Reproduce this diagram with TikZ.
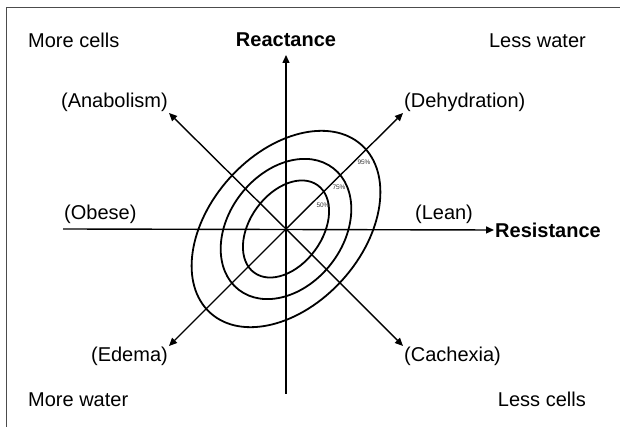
\documentclass[tikz,border=0pt]{standalone}
\usepackage{fontspec}
\setmainfont{Liberation Sans}
\usepackage{tikz}
\usetikzlibrary{arrows.meta,positioning,calc}

\begin{document}
\begin{tikzpicture}[
    x=1pt, y=1pt,
    every node/.style={font=\fontsize{20}{24}\selectfont, inner sep=1pt},
    axis/.style={line width=1.4pt, -{Triangle[length=8pt,width=7pt]}},
    ring/.style={line width=1.8pt},
    pct/.style={font=\fontsize{6.5}{7}\selectfont, text=black!80, inner sep=0pt},
    title/.style={font=\fontsize{20}{24}\selectfont\bfseries}
]
\useasboundingbox (0,0) rectangle (620,427);
\draw[line width=1pt, black!70] (6,0) -- (6,419) -- (620,419);

\coordinate (o) at (286,198);
\coordinate (xlo) at (63,198);
\coordinate (ylo) at (286,33);
\coordinate (yhi) at (286,372);

\node[anchor=base west] (morecells) at (27,379) {More cells};
\node[title, anchor=base] (react) at (286,380) {Reactance};
\node[anchor=base east] (lesswater) at (587,379) {Less water};
\node[anchor=base west] (morewater) at (27,20) {More water};
\node[anchor=base east] (lesscells) at (587,20) {Less cells};

\node[anchor=south east] (anab) at (169,314) {(Anabolism)};
\node[anchor=south west] (dehyd) at (403,314) {(Dehydration)};
\node[anchor=north east] (edema) at (169,81) {(Edema)};
\node[anchor=north west] (cach) at (403,81) {(Cachexia)};
\node[anchor=south west] (obese) at (63,202) {(Obese)};
\node[anchor=south] (lean) at (444,202) {(Lean)};
\node[title, anchor=west] (resist) at (494,197) {Resistance};

\draw[ring, rotate around={48:(o)}] (o) ellipse [x radius=113, y radius=76];
\draw[ring, rotate around={52:(o)}] (o) ellipse [x radius=77, y radius=57];
\draw[ring, rotate around={54:(o)}] (o) ellipse [x radius=54, y radius=36];

\draw[axis] (xlo) -- (resist.west);
\draw[axis] (ylo) -- (yhi);
\draw[axis] (o) -- (anab.south east);
\draw[axis] (o) -- (dehyd.south west);
\draw[axis] (o) -- (edema.north east);
\draw[axis] (o) -- (cach.north west);

\node[pct] (p95) at (364,265) {95\%};
\node[pct] (p75) at (339,240) {75\%};
\node[pct] (p50) at (323,222) {50\%};
\end{tikzpicture}
\end{document}
